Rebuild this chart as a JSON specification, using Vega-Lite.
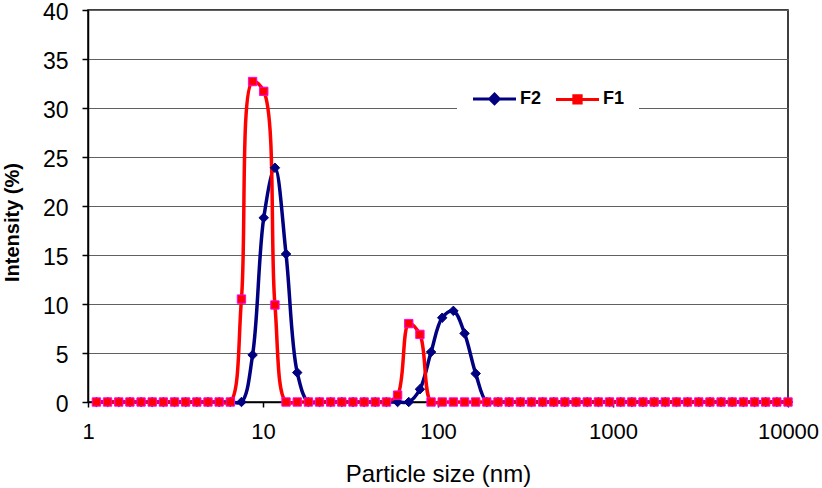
{
  "$schema": "https://vega.github.io/schema/vega-lite/v6.json",
  "width": 700,
  "height": 392,
  "autosize": {"type": "none"},
  "padding": {"left": 88, "top": 10, "right": 34, "bottom": 86},
  "background": "white",
  "config": {
    "font": "Liberation Sans",
    "view": {"stroke": "#000000", "strokeWidth": 1.5},
    "legend": {
      "orient": "none",
      "legendX": 369,
      "legendY": 51,
      "direction": "horizontal",
      "fillColor": "white",
      "padding": 14,
      "symbolSize": 1850,
      "symbolStrokeWidth": 3,
      "labelFontSize": 18,
      "labelFontWeight": "bold",
      "labelColor": "#000000",
      "labelFont": "Liberation Sans",
      "labelOffset": 2,
      "columnPadding": 7
    }
  },
  "data": {"values": [
    {"size":1.117,"series":"F2","value":0},{"size":1.294,"series":"F2","value":0},{"size":1.499,"series":"F2","value":0},{"size":1.736,"series":"F2","value":0},{"size":2.010,"series":"F2","value":0},{"size":2.328,"series":"F2","value":0},{"size":2.696,"series":"F2","value":0},{"size":3.122,"series":"F2","value":0},{"size":3.615,"series":"F2","value":0},{"size":4.187,"series":"F2","value":0},{"size":4.849,"series":"F2","value":0},{"size":5.615,"series":"F2","value":0},{"size":6.503,"series":"F2","value":0},{"size":7.531,"series":"F2","value":0},{"size":8.721,"series":"F2","value":4.8},{"size":10.10,"series":"F2","value":18.8},{"size":11.70,"series":"F2","value":23.9},{"size":13.54,"series":"F2","value":15.1},{"size":15.69,"series":"F2","value":3.0},{"size":18.17,"series":"F2","value":0},{"size":21.04,"series":"F2","value":0},{"size":24.36,"series":"F2","value":0},{"size":28.21,"series":"F2","value":0},{"size":32.67,"series":"F2","value":0},{"size":37.84,"series":"F2","value":0},{"size":43.82,"series":"F2","value":0},{"size":50.75,"series":"F2","value":0},{"size":58.77,"series":"F2","value":0},{"size":68.06,"series":"F2","value":0},{"size":78.82,"series":"F2","value":1.3},{"size":91.28,"series":"F2","value":5.1},{"size":105.7,"series":"F2","value":8.6},{"size":122.4,"series":"F2","value":9.3},{"size":141.8,"series":"F2","value":7.0},{"size":164.2,"series":"F2","value":2.9},{"size":190.1,"series":"F2","value":0},{"size":220.2,"series":"F2","value":0},{"size":255.0,"series":"F2","value":0},{"size":295.3,"series":"F2","value":0},{"size":342.0,"series":"F2","value":0},{"size":396.1,"series":"F2","value":0},{"size":458.7,"series":"F2","value":0},{"size":531.2,"series":"F2","value":0},{"size":615.1,"series":"F2","value":0},{"size":712.4,"series":"F2","value":0},{"size":825.0,"series":"F2","value":0},{"size":955.4,"series":"F2","value":0},{"size":1106,"series":"F2","value":0},{"size":1281,"series":"F2","value":0},{"size":1484,"series":"F2","value":0},{"size":1718,"series":"F2","value":0},{"size":1990,"series":"F2","value":0},{"size":2305,"series":"F2","value":0},{"size":2669,"series":"F2","value":0},{"size":3091,"series":"F2","value":0},{"size":3580,"series":"F2","value":0},{"size":4145,"series":"F2","value":0},{"size":4801,"series":"F2","value":0},{"size":5560,"series":"F2","value":0},{"size":6439,"series":"F2","value":0},{"size":7456,"series":"F2","value":0},{"size":8635,"series":"F2","value":0},{"size":10000,"series":"F2","value":0},
    {"size":1.117,"series":"F1","value":0},{"size":1.294,"series":"F1","value":0},{"size":1.499,"series":"F1","value":0},{"size":1.736,"series":"F1","value":0},{"size":2.010,"series":"F1","value":0},{"size":2.328,"series":"F1","value":0},{"size":2.696,"series":"F1","value":0},{"size":3.122,"series":"F1","value":0},{"size":3.615,"series":"F1","value":0},{"size":4.187,"series":"F1","value":0},{"size":4.849,"series":"F1","value":0},{"size":5.615,"series":"F1","value":0},{"size":6.503,"series":"F1","value":0},{"size":7.531,"series":"F1","value":10.5},{"size":8.721,"series":"F1","value":32.7},{"size":10.10,"series":"F1","value":31.7},{"size":11.70,"series":"F1","value":9.9},{"size":13.54,"series":"F1","value":0},{"size":15.69,"series":"F1","value":0},{"size":18.17,"series":"F1","value":0},{"size":21.04,"series":"F1","value":0},{"size":24.36,"series":"F1","value":0},{"size":28.21,"series":"F1","value":0},{"size":32.67,"series":"F1","value":0},{"size":37.84,"series":"F1","value":0},{"size":43.82,"series":"F1","value":0},{"size":50.75,"series":"F1","value":0},{"size":58.77,"series":"F1","value":0.7},{"size":68.06,"series":"F1","value":8.0},{"size":78.82,"series":"F1","value":6.9},{"size":91.28,"series":"F1","value":0},{"size":105.7,"series":"F1","value":0},{"size":122.4,"series":"F1","value":0},{"size":141.8,"series":"F1","value":0},{"size":164.2,"series":"F1","value":0},{"size":190.1,"series":"F1","value":0},{"size":220.2,"series":"F1","value":0},{"size":255.0,"series":"F1","value":0},{"size":295.3,"series":"F1","value":0},{"size":342.0,"series":"F1","value":0},{"size":396.1,"series":"F1","value":0},{"size":458.7,"series":"F1","value":0},{"size":531.2,"series":"F1","value":0},{"size":615.1,"series":"F1","value":0},{"size":712.4,"series":"F1","value":0},{"size":825.0,"series":"F1","value":0},{"size":955.4,"series":"F1","value":0},{"size":1106,"series":"F1","value":0},{"size":1281,"series":"F1","value":0},{"size":1484,"series":"F1","value":0},{"size":1718,"series":"F1","value":0},{"size":1990,"series":"F1","value":0},{"size":2305,"series":"F1","value":0},{"size":2669,"series":"F1","value":0},{"size":3091,"series":"F1","value":0},{"size":3580,"series":"F1","value":0},{"size":4145,"series":"F1","value":0},{"size":4801,"series":"F1","value":0},{"size":5560,"series":"F1","value":0},{"size":6439,"series":"F1","value":0},{"size":7456,"series":"F1","value":0},{"size":8635,"series":"F1","value":0},{"size":10000,"series":"F1","value":0}
  ]},
  "encoding": {
    "x": {
      "field": "size", "type": "quantitative",
      "scale": {"type": "log", "domain": [1, 10000], "nice": false},
      "axis": {
        "values": [1, 10, 100, 1000, 10000], "format": "d",
        "title": "Particle size (nm)", "grid": false,
        "labelFlush": false, "labelOverlap": false,
        "domainColor": "#000000", "domainWidth": 1.5,
        "tickColor": "#000000", "tickSize": 5, "tickWidth": 1.5,
        "labelFontSize": 22, "labelColor": "#000000", "labelPadding": 14,
        "titleFontSize": 24, "titleFontWeight": "normal", "titleColor": "#000000", "titlePadding": 20
      }
    },
    "y": {
      "field": "value", "type": "quantitative",
      "scale": {"domain": [0, 40], "nice": false},
      "axis": {
        "values": [0, 5, 10, 15, 20, 25, 30, 35, 40],
        "title": "Intensity (%)", "grid": true, "gridColor": "#606060", "gridWidth": 1,
        "labelFlush": false, "labelOffset": 2,
        "domainColor": "#000000", "domainWidth": 1.5,
        "tickColor": "#000000", "tickSize": 6, "tickWidth": 1.5,
        "labelFontSize": 23, "labelColor": "#000000", "labelPadding": 14,
        "titleFontSize": 20, "titleFontWeight": "bold", "titleColor": "#000000", "titlePadding": 20,
        "titleY": 212
      }
    }
  },
  "layer": [
    {
      "transform": [{"filter": "datum.series === 'F2'"}],
      "mark": {"type": "line", "interpolate": "catmull-rom", "color": "#000080", "strokeWidth": 3.5}
    },
    {
      "transform": [{"filter": "datum.series === 'F1'"}],
      "mark": {"type": "line", "interpolate": "catmull-rom", "color": "#FF0000", "strokeWidth": 3.5}
    },
    {
      "transform": [{"filter": "datum.series === 'F2'"}],
      "mark": {"type": "point", "shape": "diamond", "filled": true, "fill": "#000080", "stroke": "#000080", "strokeWidth": 1, "size": 90, "opacity": 1}
    },
    {
      "transform": [{"filter": "datum.series === 'F1'"}],
      "mark": {"type": "point", "shape": "square", "filled": true, "fill": "#FF0000", "stroke": "#FF00FF", "strokeWidth": 1, "size": 70, "opacity": 1}
    },
    {
      "transform": [{"filter": "datum.value < 0"}],
      "mark": {"type": "point", "filled": true, "strokeWidth": 3, "opacity": 1},
      "encoding": {
        "color": {"field": "series", "type": "nominal", "title": null,
          "scale": {"domain": ["F2", "F1"], "range": ["#000080", "#FF0000"]}},
        "stroke": {"field": "series", "type": "nominal", "title": null,
          "scale": {"domain": ["F2", "F1"], "range": ["#000080", "#FF0000"]}},
        "shape": {"field": "series", "type": "nominal", "title": null,
          "scale": {"domain": ["F2", "F1"], "range": [
            "M-1,0H1M0,-0.22L0.22,0L0,0.22L-0.22,0Z",
            "M-1,0H1M-0.17,-0.17H0.17V0.17H-0.17Z"
          ]}}
      }
    }
  ]
}
